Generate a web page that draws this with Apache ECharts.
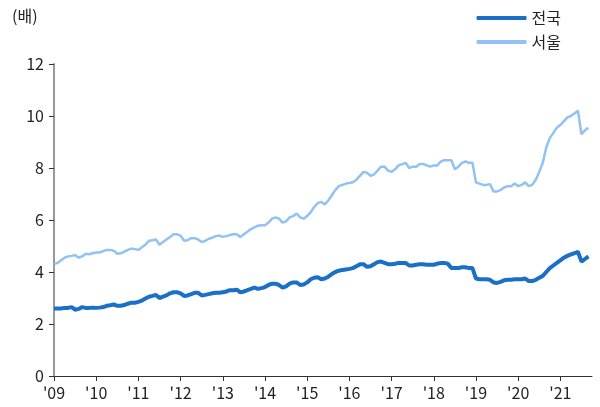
<!DOCTYPE html>
<html><head><meta charset="utf-8">
<script src="https://cdn.jsdelivr.net/npm/echarts@6/dist/echarts.min.js"></script>
<style>html,body{margin:0;padding:0;background:#fff}#c{width:600px;height:407px}</style>
</head><body><div id="c"></div>
<script>
const startYear = 2009;
const nationwide = [
 2.6,2.6,2.6,2.62,2.62,2.65,2.55,2.58,2.65,2.62,2.62,2.63,
 2.62,2.63,2.65,2.7,2.72,2.75,2.7,2.7,2.73,2.78,2.82,2.82,
 2.85,2.9,2.98,3.05,3.08,3.12,3.0,3.05,3.1,3.18,3.22,3.22,
 3.18,3.08,3.1,3.15,3.2,3.2,3.1,3.12,3.15,3.18,3.2,3.2,
 3.22,3.25,3.3,3.3,3.32,3.22,3.25,3.3,3.35,3.4,3.35,3.38,
 3.42,3.5,3.55,3.55,3.5,3.4,3.45,3.55,3.6,3.6,3.5,3.52,
 3.6,3.72,3.78,3.8,3.72,3.75,3.82,3.92,4.0,4.05,4.08,4.1,
 4.12,4.15,4.22,4.3,4.3,4.2,4.22,4.3,4.38,4.4,4.35,4.3,
 4.3,4.32,4.35,4.35,4.35,4.25,4.25,4.28,4.3,4.3,4.28,4.28,
 4.28,4.32,4.35,4.35,4.32,4.15,4.15,4.15,4.18,4.18,4.15,4.15,
 3.75,3.72,3.72,3.72,3.7,3.6,3.58,3.62,3.68,3.7,3.7,3.72,
 3.72,3.72,3.75,3.65,3.65,3.7,3.78,3.85,4.0,4.15,4.25,4.35,
 4.45,4.55,4.62,4.68,4.72,4.78,4.4,4.5,4.6
];
const seoul = [
 4.3,4.35,4.45,4.55,4.6,4.62,4.65,4.55,4.6,4.7,4.68,4.72,
 4.75,4.75,4.8,4.85,4.85,4.82,4.7,4.72,4.78,4.85,4.9,4.88,
 4.85,4.95,5.05,5.2,5.22,5.25,5.05,5.15,5.25,5.35,5.45,5.45,
 5.4,5.2,5.22,5.3,5.3,5.25,5.15,5.2,5.28,5.32,5.38,5.4,
 5.35,5.38,5.42,5.45,5.45,5.35,5.45,5.55,5.65,5.72,5.78,5.8,
 5.8,5.9,6.05,6.1,6.05,5.9,5.95,6.1,6.15,6.25,6.1,6.05,
 6.15,6.3,6.5,6.65,6.7,6.6,6.75,6.95,7.15,7.3,7.35,7.4,
 7.42,7.45,7.55,7.7,7.85,7.82,7.7,7.75,7.9,8.05,8.05,7.9,
 7.85,7.95,8.1,8.15,8.2,8.0,8.05,8.05,8.15,8.15,8.1,8.05,
 8.1,8.1,8.25,8.3,8.3,8.3,7.95,8.05,8.2,8.25,8.2,8.2,
 7.45,7.4,7.35,7.35,7.38,7.1,7.1,7.15,7.25,7.3,7.3,7.4,
 7.3,7.35,7.45,7.3,7.35,7.55,7.85,8.2,8.8,9.15,9.35,9.55,
 9.65,9.8,9.95,10.0,10.1,10.2,9.3,9.45,9.55
];
const seriesNames = ['전국','서울'];
const unitLabel = '(배)';

const months = [];
for (let i = 0; i < nationwide.length + 1; i++) {
  const y = startYear + Math.floor(i / 12), m = i % 12 + 1;
  months.push(y + '-' + (m < 10 ? '0' + m : m));
}
const isYearStart = (i) => i % 12 === 0;
const font = '"Noto Sans CJK KR", "Noto Sans", sans-serif';

const chart = echarts.init(document.getElementById('c'));
chart.setOption({
  animation: false,
  textStyle: { fontFamily: font },
  grid: { left: 54, right: 8, top: 64, bottom: 31, containLabel: false },
  graphic: [{ type: 'text', left: 12, top: 8, style: { text: unitLabel, font: '16px ' + font, fill: '#222' } }],
  legend: {
    orient: 'vertical', right: 34, top: 5, itemWidth: 50, itemHeight: 4, itemGap: 8,
    textStyle: { fontSize: 16, color: '#222', fontFamily: font },
    data: [
      { name: seriesNames[0], icon: 'roundRect' },
      { name: seriesNames[1], icon: 'roundRect' }
    ]
  },
  xAxis: {
    type: 'category', data: months, boundaryGap: false,
    axisLine: { lineStyle: { color: '#333', width: 1 } },
    axisTick: { show: true, length: 5, interval: (i) => isYearStart(i), lineStyle: { color: '#333' } },
    axisLabel: {
      interval: (i) => isYearStart(i), margin: 9, fontSize: 16, color: '#222',
      formatter: (v) => "'" + v.slice(2, 4)
    },
    splitLine: { show: false }
  },
  yAxis: {
    type: 'value', min: 0, max: 12, interval: 2,
    axisLine: { show: true, lineStyle: { color: '#999', width: 2 } },
    axisTick: { show: true, length: 5, lineStyle: { color: '#333' } },
    axisLabel: { fontSize: 16, color: '#222', margin: 10 },
    splitLine: { show: false }
  },
  series: [
    { name: seriesNames[1], type: 'line', data: seoul, showSymbol: false, symbol: 'none',
      lineStyle: { color: '#90c2f4', width: 2.5 }, itemStyle: { color: '#90c2f4' }, z: 2 },
    { name: seriesNames[0], type: 'line', data: nationwide, showSymbol: false, symbol: 'none',
      lineStyle: { color: '#1a6fc6', width: 4 }, itemStyle: { color: '#1a6fc6' }, z: 3 }
  ]
});
</script></body></html>
